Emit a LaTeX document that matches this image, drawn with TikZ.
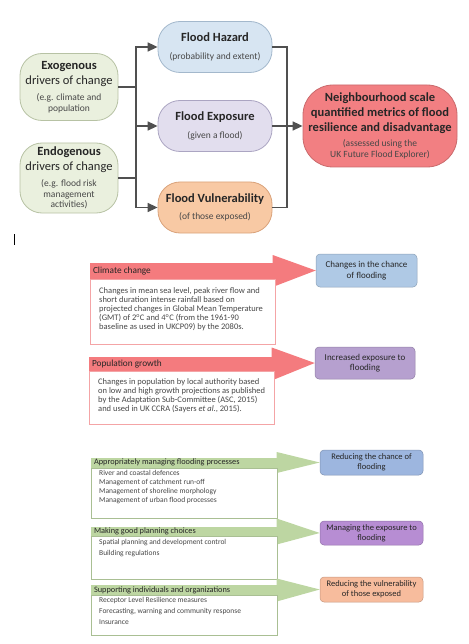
\documentclass[tikz,border=0pt]{standalone}
\usepackage{fontspec}
\setmainfont{Carlito}
\usetikzlibrary{calc}
\usetikzlibrary{arrows.meta}

\definecolor{drvfill}{HTML}{EAF0DE}
\definecolor{drvline}{HTML}{B7C2A4}
\definecolor{hazfill}{HTML}{D7E5F2}
\definecolor{hazline}{HTML}{A3B8CC}
\definecolor{expfill}{HTML}{E2DEEE}
\definecolor{expline}{HTML}{ABA5C2}
\definecolor{vulfill}{HTML}{F8C9A4}
\definecolor{vulline}{HTML}{D9A27A}
\definecolor{nbhfill}{HTML}{F27F82}
\definecolor{nbhline}{HTML}{C96A6C}
\definecolor{linkgray}{HTML}{505050}
\definecolor{textdark}{HTML}{262626}
\definecolor{textsoft}{HTML}{474747}
\definecolor{redarrow}{HTML}{F47B7E}
\definecolor{redline}{HTML}{F4A4A6}
\definecolor{greenarrow}{HTML}{BDD6A2}
\definecolor{greenline}{HTML}{A9BF93}
\definecolor{chancefill}{HTML}{AFC9E5}
\definecolor{incexpfill}{HTML}{B6A0CF}
\definecolor{redcfill}{HTML}{9DB6DF}
\definecolor{mexpfill}{HTML}{B78DD3}
\definecolor{redvfill}{HTML}{F7BC9D}

\newcommand{\bigsz}{\fontsize{12.5}{15}\selectfont}
\newcommand{\smallsz}{\fontsize{9.5}{10.5}\selectfont\color{textsoft}}

\begin{document}
\begin{tikzpicture}[x=1pt,y=-1pt,
    pill/.style={draw=#1line, fill=#1fill, line width=0.8pt, rounded corners=22pt,
        align=center, minimum width=114pt, minimum height=51pt, inner sep=0pt,
        text=textdark, font=\bigsz},
    link/.style={draw=linkgray, line width=1.6pt},
    tip/.style={-{Triangle[length=10pt,width=9pt]}},
    hdr/.style={fill=#1, inner xsep=3pt, inner ysep=0pt, text=textdark},
    body/.style={draw=#1, fill=white, line width=0.8pt, inner xsep=8pt,
        inner ysep=0pt, anchor=north west, text=textsoft},
    goal/.style={fill=#1, draw=#1!80!black, line width=0.5pt, rounded corners=4pt,
        align=center, inner sep=0pt, text=textdark}]
    \useasboundingbox (0,0) rectangle (468,644);

    % 光标
    \draw[line width=1pt] (14,234) -- (14,245);

    % 驱动因素
    \node[pill=drv, minimum width=98pt, minimum height=67pt] (exo) at (69,87)
        {\textbf{Exogenous}\\drivers of change\\[1pt]\smallsz(e.g. climate and\\[-4.5pt]\smallsz population};
    \node[pill=drv, minimum width=98pt, minimum height=70pt] (endo) at (69,178)
        {\textbf{Endogenous}\\drivers of change\\[1pt]\smallsz(e.g. flood risk\\[-4.5pt]\smallsz management\\[-4.5pt]\smallsz activities)};

    % 三个组成部分
    \node[pill=haz] (haz) at (215,47)
        {\textbf{Flood Hazard}\\[3pt]\smallsz(probability and extent)};
    \node[pill=exp] (expo) at (215,126)
        {\textbf{Flood Exposure}\\[3pt]\smallsz(given a flood)};
    \node[pill=vul] (vul) at (215,207.5)
        {\textbf{Flood Vulnerability}\\[2pt]\smallsz(of those exposed)};

    % 结果
    \node[pill=nbh, minimum width=154pt, minimum height=82pt, rounded corners=30pt] (nbh) at (380,126)
        {\textbf{Neighbourhood scale}\\\textbf{quantified metrics of flood}\\\textbf{resilience and disadvantage}\\[0pt]
         \smallsz(assessed using the\\[-4.5pt]\smallsz UK Future Flood Explorer)};

    % 左侧连线
    \coordinate (t1) at (136,47);
    \coordinate (t2) at (136,207.5);
    \draw[link, line cap=rect] (t1) -- (t2);
    \draw[link] (exo.east) -- (exo.east -| t1);
    \draw[link] (endo.east) -- (endo.east -| t1);
    \draw[link, tip] (t1) -- (haz.west);
    \draw[link, tip] (expo.west -| t1) -- (expo.west);
    \draw[link, tip] (t2) -- (vul.west);

    % 右侧连线
    \coordinate (r1) at (287,47);
    \coordinate (r2) at (287,207.5);
    \draw[link, line join=miter] (haz.east) -- (r1) -- (r2) -- (vul.east);
    \draw[link, tip] (expo.east) -- (nbh.west);

    % 气候变化
    \node[hdr=redarrow, minimum height=16pt] (cc) at (181.5,271)
        {\parbox{177pt}{\fontsize{9.3}{11}\selectfont Climate change}};
    \node[goal=chancefill, minimum width=101pt, minimum height=33pt, font=\fontsize{9}{10.5}\selectfont] (chance) at (366.5,270.5)
        {Changes in the chance\\of flooding};
    \fill[redarrow] ($(cc.east)+(-0.5,-16)$) -- (chance.west) -- ($(cc.east)+(-0.5,16)$) -- cycle;
    \node[body=redline, inner xsep=9pt] (ccb) at (cc.south west)
        {\parbox[c][65pt][t]{167pt}{\fontsize{8.5}{8.9}\selectfont\raggedright\vspace*{8pt}%
        Changes in mean sea level, peak river flow and\\
        short duration intense rainfall based on\\
        projected changes in Global Mean Temperature\\
        (GMT) of 2\textsuperscript{o}C and 4\textsuperscript{o}C (from the 1961-90\\
        baseline as used in UKCP09) by the 2080s.}};

    % 人口增长
    \node[hdr=redarrow, minimum height=14pt] (pg) at (180.5,364)
        {\parbox{177pt}{\fontsize{9.3}{11}\selectfont Population growth}};
    \node[goal=incexpfill, minimum width=100pt, minimum height=32pt, font=\fontsize{9}{10.5}\selectfont] (incexp) at (365,363)
        {Increased exposure to\\flooding};
    \fill[redarrow] ($(pg.east)+(-0.5,-16.5)$) -- (incexp.west) -- ($(pg.east)+(-0.5,16.5)$) -- cycle;
    \node[body=redline, inner xsep=9pt] (pgb) at (pg.south west)
        {\parbox[c][53pt][t]{167pt}{\fontsize{8.5}{8.9}\selectfont\raggedright\vspace*{7pt}%
        Changes in population by local authority based\\
        on low and high growth projections as published\\
        by the Adaptation Sub-Committee (ASC, 2015)\\
        and used in UK CCRA (Sayers \textit{et al}., 2015).}};

    % 洪水过程管理
    \node[hdr=greenarrow, minimum height=10pt] (am) at (184,462.5)
        {\parbox{180pt}{\fontsize{8.3}{10}\selectfont Appropriately managing flooding processes}};
    \node[goal=redcfill, minimum width=103pt, minimum height=25pt, font=\fontsize{8.5}{10}\selectfont] (redc) at (371.5,462.5)
        {Reducing the chance of\\flooding};
    \fill[greenarrow] ($(am.east)+(-0.5,-10.5)$) -- (redc.west) -- ($(am.east)+(-0.5,10.5)$) -- cycle;
    \node[body=greenline] (amb) at (am.south west)
        {\parbox[c][50.5pt][t]{170pt}{\fontsize{7.5}{9}\selectfont\raggedright\vspace*{2.5pt}%
        River and coastal defences\\
        Management of catchment run-off\\
        Management of shoreline morphology\\
        Management of urban flood processes}};

    % 规划选择
    \node[hdr=greenarrow, minimum height=9pt] (gp) at (184,531.5)
        {\parbox{180pt}{\fontsize{8.3}{10}\selectfont Making good planning choices}};
    \node[goal=mexpfill, minimum width=103pt, minimum height=24pt, font=\fontsize{8.5}{10}\selectfont] (mexp) at (371.5,533)
        {Managing the exposure to\\flooding};
    \fill[greenarrow] ($(gp.east)+(-0.5,-13)$) -- (mexp.west) -- ($(gp.east)+(-0.5,13)$) -- cycle;
    \node[body=greenline] (gpb) at (gp.south west)
        {\parbox[c][43pt][t]{170pt}{\fontsize{7.5}{10.5}\selectfont\raggedright\vspace*{3pt}%
        Spatial planning and development control\\
        Building regulations}};

    % 支持个人与组织
    \node[hdr=greenarrow, minimum height=10pt] (si) at (184,590)
        {\parbox{180pt}{\fontsize{8.3}{10}\selectfont Supporting individuals and organizations}};
    \node[goal=redvfill, minimum width=103pt, minimum height=25pt, font=\fontsize{8.5}{10}\selectfont] (redv) at (371.5,589.5)
        {Reducing the vulnerability\\of those exposed};
    \fill[greenarrow] ($(si.east)+(-0.5,-11.5)$) -- (redv.west) -- ($(si.east)+(-0.5,11.5)$) -- cycle;
    \node[body=greenline] (sib) at (si.south west)
        {\parbox[c][40pt][t]{170pt}{\fontsize{7.5}{11}\selectfont\raggedright\vspace*{1.5pt}%
        Receptor Level Resilience measures\\
        Forecasting, warning and community response\\
        Insurance}};
\end{tikzpicture}
\end{document}
